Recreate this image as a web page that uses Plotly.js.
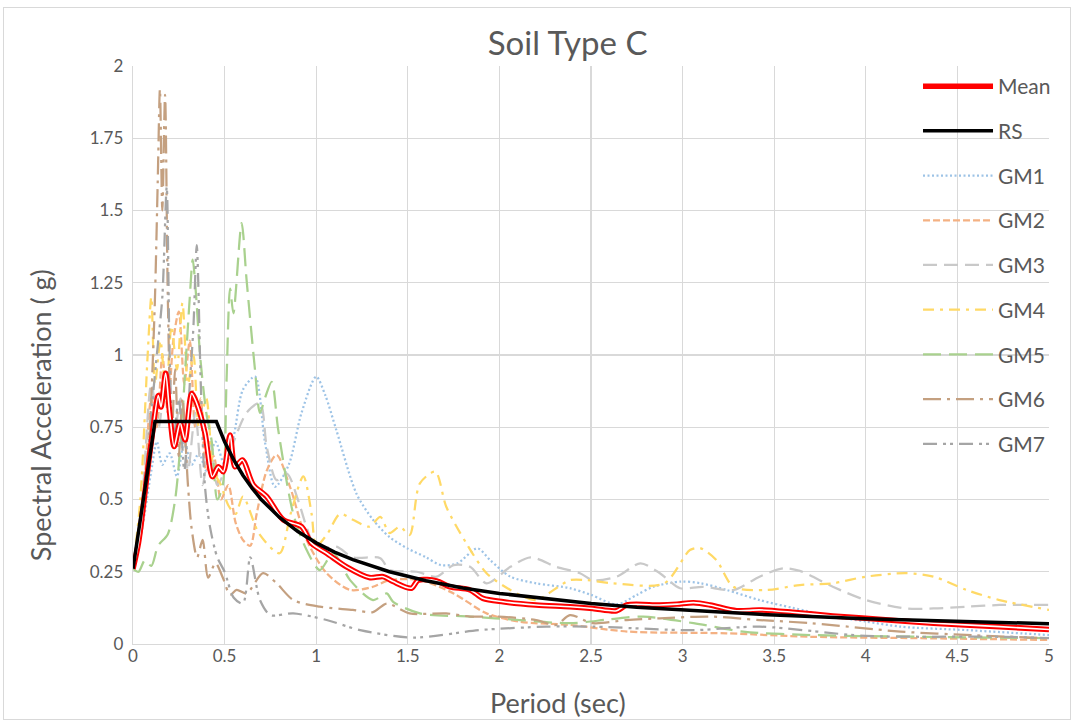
<!DOCTYPE html>
<html><head><meta charset="utf-8">
<script src="https://cdn.plot.ly/plotly-3.0.1.min.js"></script>
<style>
body{margin:0;background:#fff}
#frame{position:absolute;left:3px;top:7px;width:1068px;height:713px;border:1px solid #D9D9D9;box-sizing:border-box}
#chart{position:absolute;left:0;top:0;width:1073px;height:720px}
</style>
</head><body><div id="frame"></div><div id="chart"></div>
<script>
// ---- data (period in sec, spectral acceleration in g) ----
const gm1T  = [0,0.05,0.1,0.13,0.16,0.2,0.24,0.28,0.32,0.36,0.4,0.45,0.5,0.55,0.6,0.666,0.72,0.775,0.85,0.92,1.0,1.05,1.11,1.22,1.31,1.4,1.5,1.6,1.68,1.77,1.88,1.95,2.06,2.2,2.385,2.5,2.64,2.75,2.84,2.99,3.1,3.24,3.42,3.6,3.82,4.0,4.19,4.55,5.0];
const gm1Sa = [0.26,0.4,0.6,0.7,0.62,0.66,0.58,0.7,0.62,0.66,0.6,0.7,0.62,0.72,0.88,0.925,0.7,0.544,0.62,0.8,0.925,0.86,0.74,0.52,0.43,0.37,0.33,0.3,0.273,0.279,0.331,0.29,0.233,0.21,0.193,0.17,0.137,0.17,0.198,0.216,0.21,0.187,0.152,0.125,0.095,0.078,0.06,0.048,0.031];

const gm2T  = [0,0.05,0.1,0.13,0.16,0.19,0.22,0.25,0.28,0.31,0.34,0.37,0.4,0.44,0.48,0.52,0.56,0.6,0.64,0.675,0.73,0.784,0.857,0.948,1.057,1.185,1.31,1.4,1.566,1.75,1.93,2.11,2.385,2.7,3.24,3.7,4.3,5.0];
const gm2Sa = [0.26,0.45,0.85,0.75,1.0,0.8,1.05,1.15,0.9,1.05,0.75,0.85,0.6,0.65,0.5,0.55,0.42,0.36,0.34,0.45,0.6,0.654,0.544,0.36,0.245,0.187,0.198,0.221,0.221,0.175,0.106,0.077,0.066,0.043,0.037,0.025,0.02,0.014];

const gm3T  = [0,0.05,0.1,0.14,0.18,0.22,0.26,0.3,0.34,0.38,0.42,0.46,0.5,0.55,0.62,0.693,0.73,0.784,0.84,0.9,0.95,1.0,1.11,1.2,1.35,1.4,1.55,1.657,1.75,1.84,1.93,2.06,2.17,2.31,2.44,2.51,2.64,2.77,2.876,2.986,3.11,3.28,3.42,3.55,3.64,3.82,4.0,4.22,4.37,4.55,4.73,5.0];
const gm3Sa = [0.26,0.5,0.9,0.75,0.95,0.7,0.85,0.6,0.8,0.55,0.7,0.55,0.6,0.7,0.8,0.834,0.683,0.567,0.59,0.5,0.4,0.33,0.337,0.3,0.297,0.256,0.25,0.233,0.273,0.267,0.21,0.267,0.30,0.267,0.245,0.221,0.233,0.279,0.245,0.193,0.198,0.187,0.233,0.262,0.253,0.198,0.152,0.123,0.123,0.129,0.135,0.135];

const gm4T  = [0,0.04,0.08,0.1,0.12,0.15,0.18,0.21,0.24,0.27,0.3,0.33,0.36,0.4,0.44,0.48,0.52,0.56,0.6,0.69,0.8,0.86,0.93,0.975,1.0,1.06,1.13,1.2,1.29,1.35,1.4,1.457,1.51,1.566,1.65,1.71,1.82,1.93,2.06,2.2,2.31,2.385,2.48,2.62,2.9,3.04,3.095,3.185,3.277,3.46,3.64,3.82,4.0,4.22,4.37,4.55,4.73,5.0];
const gm4Sa = [0.26,0.5,1.0,1.2,0.9,1.05,0.85,1.1,0.95,1.18,0.9,1.0,0.75,0.85,0.6,0.55,0.48,0.45,0.51,0.38,0.314,0.45,0.58,0.45,0.34,0.38,0.45,0.43,0.406,0.44,0.384,0.406,0.377,0.556,0.596,0.475,0.348,0.245,0.187,0.152,0.193,0.221,0.221,0.21,0.21,0.325,0.332,0.29,0.198,0.187,0.204,0.21,0.233,0.245,0.233,0.187,0.152,0.118];

const gm5T  = [0,0.03,0.065,0.1,0.137,0.19,0.23,0.26,0.29,0.31,0.326,0.345,0.366,0.4,0.43,0.46,0.49,0.51,0.53,0.548,0.593,0.62,0.666,0.693,0.72,0.757,0.793,0.875,0.948,1.02,1.093,1.185,1.31,1.385,1.42,1.566,1.84,2.11,2.385,2.6,2.785,3.06,3.33,3.7,4.3,5.0];
const gm5Sa = [0.26,0.25,0.29,0.27,0.34,0.38,0.5,0.7,1.0,1.2,1.33,1.2,1.0,0.8,0.7,0.5,0.55,0.9,1.23,1.144,1.456,1.26,0.948,0.8,0.85,0.907,0.74,0.45,0.325,0.256,0.314,0.221,0.152,0.175,0.146,0.106,0.095,0.083,0.072,0.085,0.095,0.072,0.043,0.031,0.025,0.02];

const gm6T  = [0,0.05,0.08,0.1,0.12,0.135,0.147,0.16,0.175,0.19,0.21,0.23,0.25,0.27,0.3,0.32,0.35,0.38,0.41,0.45,0.49,0.53,0.566,0.62,0.71,0.784,0.875,1.02,1.2,1.31,1.385,1.51,1.71,1.84,1.985,2.2,2.31,2.385,2.51,2.695,2.876,3.15,3.42,3.7,4.19,4.6,5.0];
const gm6Sa = [0.26,0.4,0.6,0.85,1.2,1.6,1.92,1.5,1.9,1.2,0.7,0.95,0.65,0.85,0.55,0.4,0.3,0.36,0.23,0.28,0.23,0.17,0.187,0.175,0.245,0.21,0.152,0.129,0.118,0.11,0.14,0.106,0.106,0.095,0.095,0.083,0.066,0.1,0.072,0.083,0.089,0.095,0.083,0.072,0.043,0.03,0.02];

const gm7T  = [0,0.05,0.1,0.13,0.16,0.184,0.2,0.22,0.25,0.28,0.31,0.33,0.348,0.37,0.393,0.42,0.46,0.5,0.55,0.6,0.64,0.693,0.75,0.875,1.057,1.24,1.53,1.89,2.257,2.51,3.06,3.42,4.0,4.73,5.0];
const gm7Sa = [0.26,0.45,0.8,1.0,1.2,1.58,1.0,0.7,0.85,0.6,0.9,1.1,1.38,0.9,0.544,0.406,0.3,0.25,0.16,0.14,0.3,0.152,0.1,0.106,0.083,0.048,0.022,0.048,0.06,0.06,0.048,0.06,0.028,0.025,0.02];

const meanT  = [0,0.03,0.07,0.1,0.138,0.153,0.178,0.2,0.225,0.257,0.284,0.32,0.347,0.393,0.433,0.466,0.493,0.53,0.557,0.597,0.657,0.73,0.82,0.92,0.975,1.057,1.166,1.29,1.366,1.42,1.52,1.557,1.657,1.73,1.84,1.91,2.02,2.2,2.385,2.51,2.64,2.695,2.876,2.97,3.06,3.15,3.295,3.42,3.6,3.82,4.0,4.37,4.73,5.0];
const meanSa = [0.26,0.35,0.55,0.7,0.86,0.82,0.937,0.8,0.683,0.765,0.706,0.867,0.834,0.73,0.579,0.613,0.596,0.723,0.613,0.637,0.55,0.51,0.43,0.406,0.348,0.314,0.267,0.23,0.233,0.216,0.193,0.221,0.218,0.198,0.187,0.158,0.146,0.135,0.129,0.123,0.115,0.135,0.135,0.138,0.143,0.135,0.115,0.118,0.11,0.097,0.089,0.072,0.06,0.05];

const rsT  = [0,0.12,0.455,0.5,0.55,0.6,0.65,0.7,0.8,0.9,1.0,1.1,1.2,1.4,1.6,1.8,2.0,2.25,2.5,2.75,3.0,3.5,4.0,4.5,5.0];
const rsSa = [0.26,0.77,0.77,0.70,0.637,0.584,0.539,0.50,0.438,0.389,0.35,0.318,0.292,0.25,0.219,0.194,0.175,0.156,0.14,0.127,0.117,0.10,0.0875,0.078,0.07];

const xTicks = [0,0.5,1,1.5,2,2.5,3,3.5,4,4.5,5];
const yTicks = [0,0.25,0.5,0.75,1,1.25,1.5,1.75,2];

// ---- traces ----
function gm(name, t, sa, color, dash, rank){
  return {x:t, y:sa, name:name, type:'scatter', mode:'lines', legendgroup:name, legendrank:rank,
          line:{color:color, width:2.25, dash:dash, shape:'spline', smoothing:0.8}};
}
const traces = [
  gm('GM1', gm1T, gm1Sa, '#9DC3E6', '2px,2.5px', 3),
  gm('GM2', gm2T, gm2Sa, '#F4B183', '7px,3px', 4),
  gm('GM3', gm3T, gm3Sa, '#C9C9C9', '14px,7px', 5),
  gm('GM4', gm4T, gm4Sa, '#FFD966', '11px,6px,3px,6px', 6),
  gm('GM5', gm5T, gm5Sa, '#A9D18E', '18px,8px', 7),
  gm('GM6', gm6T, gm6Sa, '#C4A080', '18px,6px,3px,6px', 8),
  gm('GM7', gm7T, gm7Sa, '#A5A5A5', '14px,6px,3px,4px,3px,6px', 9),
  {x:meanT, y:meanSa, name:'Mean', type:'scatter', mode:'lines', legendgroup:'Mean', legendrank:1,
   line:{color:'#FF0000', width:5.5, shape:'spline', smoothing:0.8}},
  {x:meanT, y:meanSa, name:'Mean', type:'scatter', mode:'lines', legendgroup:'Mean', showlegend:false,
   line:{color:'#FFFFFF', width:1.6, shape:'spline', smoothing:0.8}},
  {x:rsT, y:rsSa, name:'RS', type:'scatter', mode:'lines', legendgroup:'RS', legendrank:2,
   line:{color:'#000000', width:3.5}}
];

const font = 'Lato, "Open Sans", sans-serif';
const layout = {
  width:1073, height:720,
  margin:{l:133, r:24, t:66, b:76},
  paper_bgcolor:'rgba(0,0,0,0)', plot_bgcolor:'rgba(0,0,0,0)',
  font:{family:font, color:'#595959'},
  title:{text:'Soil Type C', x:0.529, xanchor:'center', y:0.939, yanchor:'middle', font:{size:33, color:'#595959'}},
  xaxis:{range:[0,5], tickvals:xTicks, ticktext:xTicks.map(String), showgrid:true, gridcolor:'#D9D9D9', gridwidth:1.3,
         zeroline:false, showline:true, linecolor:'#D9D9D9', linewidth:1.3, ticks:'', ticklabelstandoff:-4, tickfont:{size:17, color:'#595959'}},
  yaxis:{range:[0,2], tickvals:yTicks, ticktext:yTicks.map(String), showgrid:true, gridcolor:'#D9D9D9', gridwidth:1.3,
         zeroline:false, showline:true, linecolor:'#D9D9D9', linewidth:1.3, ticks:'', ticklabelstandoff:5, tickfont:{size:17, color:'#595959'}},
  annotations:[
    {text:'Spectral Acceleration ( g)', xref:'paper', yref:'paper', x:-0.1015, y:0.396, xanchor:'center', yanchor:'middle',
     textangle:-90, showarrow:false, font:{size:27, color:'#595959', family:font}},
    {text:'Period (sec)', xref:'paper', yref:'paper', x:0.464, y:-0.102, xanchor:'center', yanchor:'middle',
     showarrow:false, font:{size:27, color:'#595959', family:font}}
  ],
  legend:{x:0.857, y:1.0, xanchor:'left', yanchor:'top', bgcolor:'rgba(0,0,0,0)',
          font:{size:21, color:'#595959', family:font}, traceorder:'grouped', tracegroupgap:14.4, itemwidth:70},
  showlegend:true
};
Plotly.newPlot('chart', traces, layout, {displayModeBar:false, staticPlot:true});
</script>
</body></html>
